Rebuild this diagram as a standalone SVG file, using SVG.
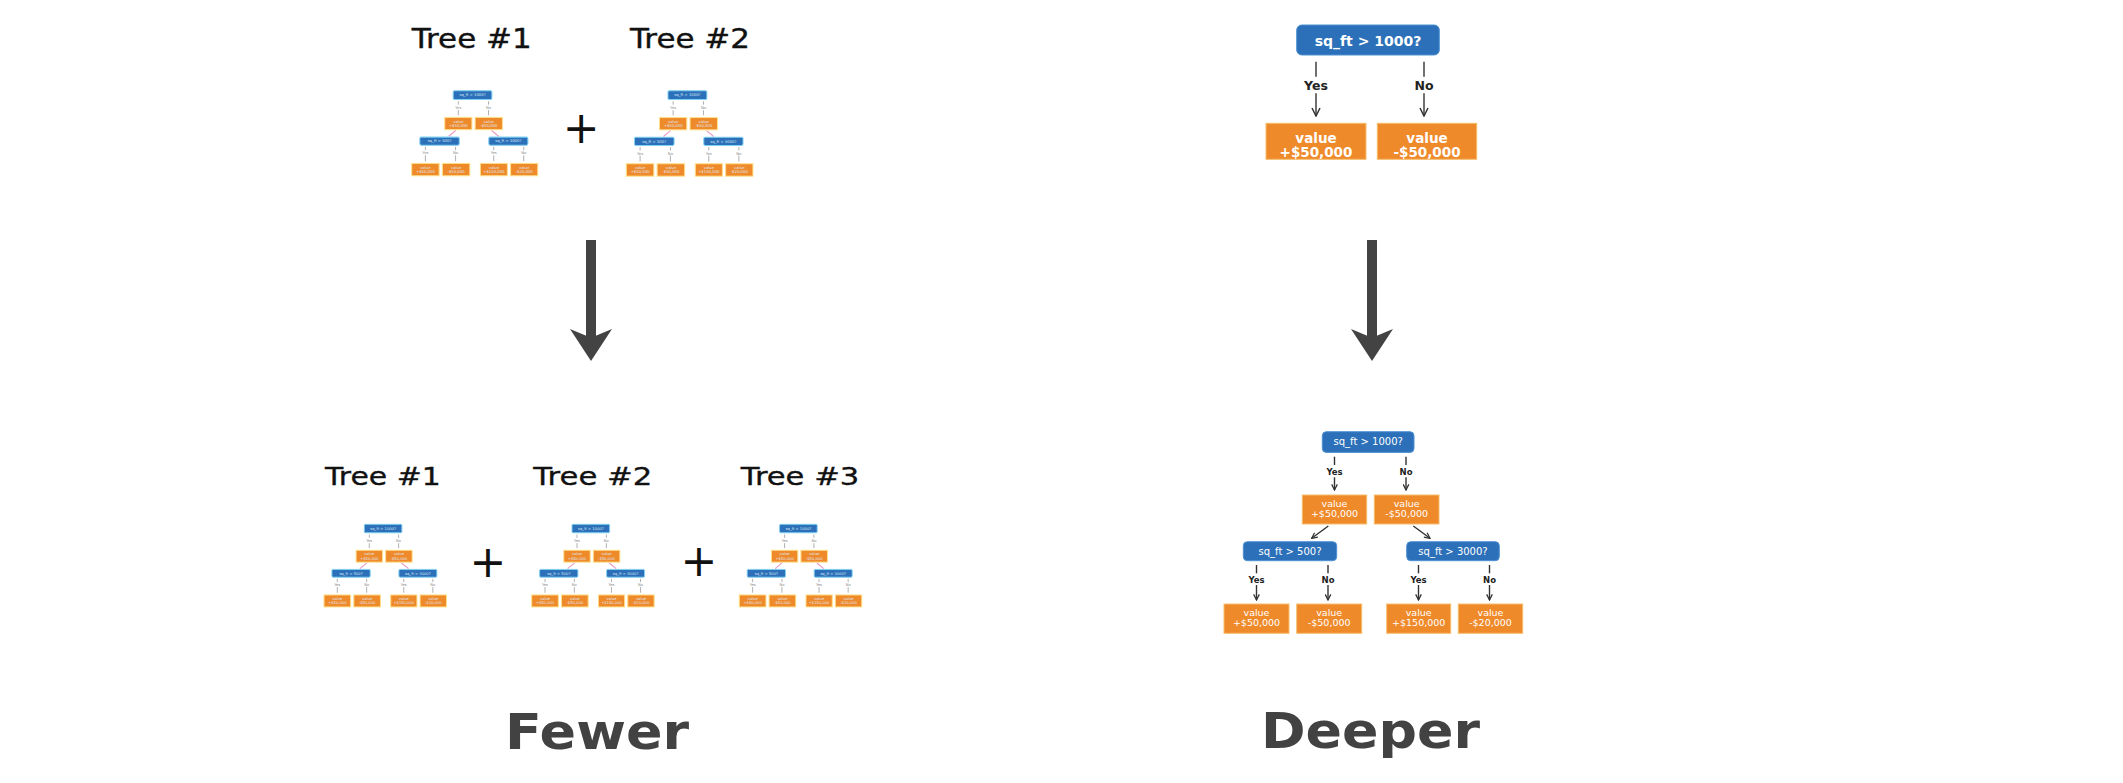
<svg xmlns="http://www.w3.org/2000/svg" xmlns:xlink="http://www.w3.org/1999/xlink" width="2123" height="783" viewBox="0 0 2123 783">
<style>
.blue{fill:#2b70b8;stroke:#4f92d4;stroke-width:1}
.orange{fill:#ef8a2b;stroke:#f7bd6c;stroke-width:1}
.t{font-family:"DejaVu Sans","Liberation Sans",sans-serif;fill:#ffffff;text-anchor:middle}
.tb{font-family:"DejaVu Sans","Liberation Sans",sans-serif;font-weight:bold;fill:#ffffff;text-anchor:middle}
.lab{font-family:"DejaVu Sans","Liberation Sans",sans-serif;font-weight:bold;fill:#222222;text-anchor:middle}
.ln{stroke:#333333;stroke-width:1.4;fill:none}
.title{font-family:"DejaVu Sans","Liberation Sans",sans-serif;fill:#111111;stroke:#111111;stroke-width:0.35}
.big{font-family:"DejaVu Sans","Liberation Sans",sans-serif;font-weight:bold;font-size:50px;fill:#424242}
.plus{font-family:"DejaVu Sans","Liberation Sans",sans-serif;font-size:44px;fill:#111111;text-anchor:middle}
.mb{fill:#2b70b8;stroke:#7fd0f2;stroke-width:2.4}
.mo{fill:#ef8a2b;stroke:#ffe08a;stroke-width:2.4}
.mt{font-family:"DejaVu Sans","Liberation Sans",sans-serif;font-size:9px;fill:#dce9f7;text-anchor:middle}
.ml{stroke:#a0a0a0;stroke-width:2;fill:none}
.mlab{font-family:"DejaVu Sans","Liberation Sans",sans-serif;font-size:9px;fill:#8a8a8a;text-anchor:middle}
.mp{stroke:#e79ac6;stroke-width:2.6;fill:none}
.arrow{stroke:#434343;stroke-width:10;fill:none}
</style>
<defs>
<marker id="ah" viewBox="0 0 10 10" markerUnits="userSpaceOnUse" markerWidth="10" markerHeight="10" refX="9" refY="5" orient="auto">
<path d="M1,1 L9,5 L1,9" fill="none" stroke="#333333" stroke-width="1.5"/>
</marker>
<marker id="ahs" viewBox="0 0 10 10" markerUnits="userSpaceOnUse" markerWidth="7" markerHeight="7" refX="9" refY="5" orient="auto">
<path d="M1,1 L9,5 L1,9" fill="none" stroke="#333333" stroke-width="1.8"/>
</marker>
<marker id="bigHead" viewBox="0 0 32 42" markerUnits="userSpaceOnUse" markerWidth="32" markerHeight="42" refX="11" refY="21" orient="auto">
<path d="M0,0 L32,21 L0,42 L8.7,21 Z" fill="#434343"/>
</marker>
<g id="miniTree">
<g class="ml">
<line x1="110.5" y1="25" x2="110.5" y2="33"/><line x1="110.5" y1="46" x2="110.5" y2="58"/>
<line x1="182" y1="25" x2="182" y2="33"/><line x1="182" y1="46" x2="182" y2="58"/>
<line x1="32.5" y1="133" x2="32.5" y2="141"/><line x1="32.5" y1="153" x2="32.5" y2="167"/>
<line x1="104" y1="133" x2="104" y2="141"/><line x1="104" y1="153" x2="104" y2="167"/>
<line x1="194.5" y1="133" x2="194.5" y2="141"/><line x1="194.5" y1="153" x2="194.5" y2="167"/>
<line x1="265.5" y1="133" x2="265.5" y2="141"/><line x1="265.5" y1="153" x2="265.5" y2="167"/>
</g>
<line class="mp" x1="104.3" y1="94.3" x2="87.7" y2="108"/>
<line class="mp" x1="189.3" y1="94.3" x2="206" y2="108"/>
<text class="mlab" x="110.5" y="43">Yes</text><text class="mlab" x="182" y="43">No</text>
<text class="mlab" x="32.5" y="151">Yes</text><text class="mlab" x="104" y="151">No</text>
<text class="mlab" x="194.5" y="151">Yes</text><text class="mlab" x="265.5" y="151">No</text>
<rect class="mb" x="98.3" y="0" width="91.7" height="20.7" rx="3"/>
<rect class="mo" x="78.3" y="63.3" width="64.4" height="29"/>
<rect class="mo" x="150.3" y="63.3" width="64.7" height="29"/>
<rect class="mb" x="19.3" y="110" width="93.4" height="19" rx="3"/>
<rect class="mb" x="182.7" y="110" width="92.6" height="19" rx="3"/>
<rect class="mo" x="0" y="172.3" width="65" height="29.3"/>
<rect class="mo" x="72.7" y="172.3" width="65" height="29.3"/>
<rect class="mo" x="162.7" y="172.3" width="64" height="29.3"/>
<rect class="mo" x="234.3" y="172.3" width="64.4" height="29.3"/>
<text class="mt" x="144.2" y="13.5">sq_ft &gt; 1000?</text>
<text class="mt" x="110.5" y="76">value</text><text class="mt" x="110.5" y="86">+$50,000</text>
<text class="mt" x="182.7" y="76">value</text><text class="mt" x="182.7" y="86">-$50,000</text>
<text class="mt" x="66" y="122.5">sq_ft &gt; 500?</text>
<text class="mt" x="229" y="122.5">sq_ft &gt; 3000?</text>
<text class="mt" x="32.5" y="185">value</text><text class="mt" x="32.5" y="195">+$50,000</text>
<text class="mt" x="105.2" y="185">value</text><text class="mt" x="105.2" y="195">-$50,000</text>
<text class="mt" x="194.7" y="185">value</text><text class="mt" x="194.7" y="195">+$150,000</text>
<text class="mt" x="266.5" y="185">value</text><text class="mt" x="266.5" y="195">-$20,000</text>
</g>
</defs>
<rect x="0" y="0" width="2123" height="783" fill="#ffffff"/>

<g id="connectors">
<line class="arrow" x1="591" y1="240" x2="591" y2="340" marker-end="url(#bigHead)"/>
<line class="arrow" x1="1372" y1="240" x2="1372" y2="340" marker-end="url(#bigHead)"/>
<g id="shallow-connectors">
<line class="ln" x1="1316" y1="61.7" x2="1316" y2="76.7"/>
<line class="ln" x1="1316" y1="93.3" x2="1316" y2="116" marker-end="url(#ah)"/>
<line class="ln" x1="1424" y1="61.7" x2="1424" y2="76.7"/>
<line class="ln" x1="1424" y1="93.3" x2="1424" y2="116" marker-end="url(#ah)"/>
</g>
<g id="deep-connectors" transform="translate(1224,431.7)">
<line class="ln" x1="110.5" y1="25" x2="110.5" y2="33.3"/>
<line class="ln" x1="110.5" y1="45.6" x2="110.5" y2="58.3" marker-end="url(#ahs)"/>
<line class="ln" x1="182" y1="25" x2="182" y2="33.3"/>
<line class="ln" x1="182" y1="45.6" x2="182" y2="58.3" marker-end="url(#ahs)"/>
<line class="ln" x1="104.3" y1="94.3" x2="87.7" y2="106.6" marker-end="url(#ahs)"/>
<line class="ln" x1="189.3" y1="94.3" x2="206" y2="106.6" marker-end="url(#ahs)"/>
<line class="ln" x1="32.5" y1="133.3" x2="32.5" y2="141.6"/>
<line class="ln" x1="32.5" y1="153.3" x2="32.5" y2="168.3" marker-end="url(#ahs)"/>
<line class="ln" x1="104" y1="133.3" x2="104" y2="141.6"/>
<line class="ln" x1="104" y1="153.3" x2="104" y2="168.3" marker-end="url(#ahs)"/>
<line class="ln" x1="194.5" y1="133.3" x2="194.5" y2="141.6"/>
<line class="ln" x1="194.5" y1="153.3" x2="194.5" y2="168.3" marker-end="url(#ahs)"/>
<line class="ln" x1="265.5" y1="133.3" x2="265.5" y2="141.6"/>
<line class="ln" x1="265.5" y1="153.3" x2="265.5" y2="168.3" marker-end="url(#ahs)"/>
</g>
</g>

<g id="labels-fewer">
<text class="title" x="411.7" y="48.3" font-size="26" textLength="120" lengthAdjust="spacingAndGlyphs">Tree #1</text>
<text class="title" x="630" y="48.3" font-size="26" textLength="120" lengthAdjust="spacingAndGlyphs">Tree #2</text>
<text class="plus" x="581.3" y="143">+</text>
<text class="title" x="325" y="485" font-size="25.5" textLength="115.7" lengthAdjust="spacingAndGlyphs">Tree #1</text>
<text class="title" x="533.3" y="485" font-size="25.5" textLength="119" lengthAdjust="spacingAndGlyphs">Tree #2</text>
<text class="title" x="740.7" y="485" font-size="25.5" textLength="118.6" lengthAdjust="spacingAndGlyphs">Tree #3</text>
<text class="plus" x="488" y="576.5">+</text>
<text class="plus" x="699" y="576">+</text>
</g>

<g id="top-tree-1"><use xlink:href="#miniTree" transform="translate(411.7,90.7) scale(0.422)"/></g>
<g id="top-tree-2"><use xlink:href="#miniTree" transform="translate(626.3,90.7) scale(0.424)"/></g>
<g id="bottom-tree-1"><use xlink:href="#miniTree" transform="translate(324,524.3) scale(0.41)"/></g>
<g id="bottom-tree-2"><use xlink:href="#miniTree" transform="translate(531.7,524.3) scale(0.41)"/></g>
<g id="bottom-tree-3"><use xlink:href="#miniTree" transform="translate(739.3,524.3) scale(0.41)"/></g>

<g id="shallow-tree">
<g id="s-root"><rect class="blue" x="1296.7" y="25" width="142.6" height="30" rx="5"/>
<text class="tb" x="1368" y="45.8" font-size="14">sq_ft &gt; 1000?</text></g>
<g id="s-yes"><text class="lab" x="1316" y="90" font-size="12.5">Yes</text></g>
<g id="s-no"><text class="lab" x="1424" y="90" font-size="12.5">No</text></g>
<g id="s-left"><rect class="orange" x="1266" y="123.3" width="100" height="36"/>
<text class="tb" x="1316" y="142.7" font-size="13.5">value</text>
<text class="tb" x="1316" y="156.7" font-size="13.5">+$50,000</text></g>
<g id="s-right"><rect class="orange" x="1377.3" y="123.3" width="99.4" height="36"/>
<text class="tb" x="1427" y="142.7" font-size="13.5">value</text>
<text class="tb" x="1427" y="156.7" font-size="13.5">-$50,000</text></g>
</g>

<g id="deep-tree" transform="translate(1224,431.7)">
<g id="d-root"><rect class="blue" x="98.3" y="0" width="91.7" height="20.7" rx="4"/>
<text class="t" x="144.2" y="13.8" font-size="10">sq_ft &gt; 1000?</text></g>
<g id="d-labels1"><text class="lab" x="110.5" y="43" font-size="8.5">Yes</text><text class="lab" x="182" y="43" font-size="8.5">No</text></g>
<g id="d-l1a"><rect class="orange" x="78.3" y="63.3" width="64.4" height="29"/>
<text class="t" x="110.5" y="75.6" font-size="9.5">value</text><text class="t" x="110.5" y="85.6" font-size="9.5">+$50,000</text></g>
<g id="d-l1b"><rect class="orange" x="150.3" y="63.3" width="64.7" height="29"/>
<text class="t" x="182.7" y="75.6" font-size="9.5">value</text><text class="t" x="182.7" y="85.6" font-size="9.5">-$50,000</text></g>
<g id="d-l2a"><rect class="blue" x="19.3" y="110" width="93.4" height="19" rx="4"/>
<text class="t" x="66" y="123" font-size="10">sq_ft &gt; 500?</text></g>
<g id="d-l2b"><rect class="blue" x="182.7" y="110" width="92.6" height="19" rx="4"/>
<text class="t" x="229" y="123" font-size="10">sq_ft &gt; 3000?</text></g>
<g id="d-labels2">
<text class="lab" x="32.5" y="151.3" font-size="8.5">Yes</text><text class="lab" x="104" y="151.3" font-size="8.5">No</text>
<text class="lab" x="194.5" y="151.3" font-size="8.5">Yes</text><text class="lab" x="265.5" y="151.3" font-size="8.5">No</text>
</g>
<g id="d-l3a"><rect class="orange" x="0" y="172.3" width="65" height="29.3"/>
<text class="t" x="32.5" y="184.3" font-size="9.5">value</text><text class="t" x="32.5" y="194.3" font-size="9.5">+$50,000</text></g>
<g id="d-l3b"><rect class="orange" x="72.7" y="172.3" width="65" height="29.3"/>
<text class="t" x="105.2" y="184.3" font-size="9.5">value</text><text class="t" x="105.2" y="194.3" font-size="9.5">-$50,000</text></g>
<g id="d-l3c"><rect class="orange" x="162.7" y="172.3" width="64" height="29.3"/>
<text class="t" x="194.7" y="184.3" font-size="9.5">value</text><text class="t" x="194.7" y="194.3" font-size="9.5">+$150,000</text></g>
<g id="d-l3d"><rect class="orange" x="234.3" y="172.3" width="64.4" height="29.3"/>
<text class="t" x="266.5" y="184.3" font-size="9.5">value</text><text class="t" x="266.5" y="194.3" font-size="9.5">-$20,000</text></g>
</g>

<g id="caption-fewer"><text class="big" x="505" y="749.3" textLength="184" lengthAdjust="spacingAndGlyphs">Fewer</text></g>
<g id="caption-deeper"><text class="big" x="1261" y="748.3" textLength="219" lengthAdjust="spacingAndGlyphs">Deeper</text></g>
</svg>
